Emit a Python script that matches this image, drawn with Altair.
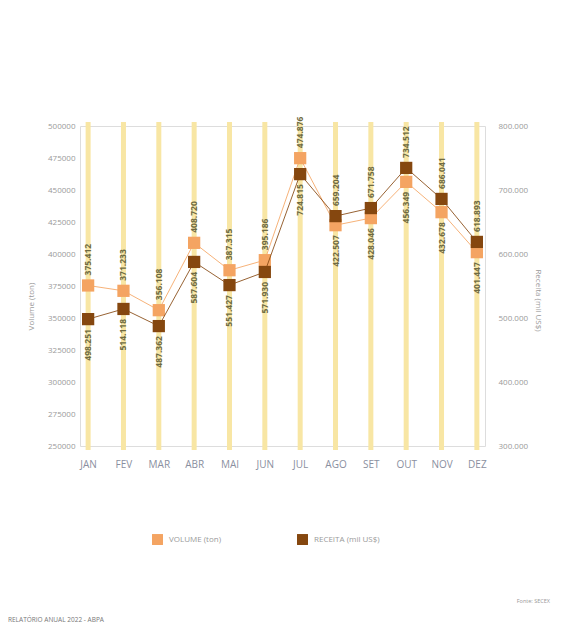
import altair as alt
import pandas as pd

# ---- data ----
meses = ["JAN", "FEV", "MAR", "ABR", "MAI", "JUN", "JUL", "AGO", "SET", "OUT", "NOV", "DEZ"]
volume = [375412, 371233, 356108, 408720, 387315, 395186, 474876, 422507, 428046, 456349, 432678, 401447]
receita = [498251, 514118, 487362, 587604, 551427, 571930, 724815, 659204, 671758, 734512, 686041, 618893]

VOL_DOMAIN = [250000, 500000]
REC_DOMAIN = [300000, 800000]
vol_ticks = list(range(250000, 500001, 25000))
rec_ticks = list(range(300000, 800001, 100000))

VOL_NAME = "VOLUME (ton)"
REC_NAME = "RECEITA (mil US$)"
LIGHT = "#f4a462"
DARK = "#85470f"
BAR = "#f8e6a4"
LABEL = "#6e6a42"
GRAY = "#9a9a9a"
FONT = "Open Sans"


def fmt(v):
    return f"{v:,}".replace(",", ".")


def rel(v, d):
    return (v - d[0]) / (d[1] - d[0])


df = pd.DataFrame({
    "mes": meses,
    "volume": volume,
    "receita": receita,
})
df["vol_label"] = [fmt(v) for v in volume]
df["rec_label"] = [fmt(v) for v in receita]
df["vol_up"] = [rel(v, VOL_DOMAIN) >= rel(r, REC_DOMAIN) for v, r in zip(volume, receita)]
df["s_vol"] = VOL_NAME
df["s_rec"] = REC_NAME

X = alt.X(
    "mes:N", sort=meses,
    scale=alt.Scale(type="point", padding=0.23),
    axis=alt.Axis(title=None, labelAngle=0, domain=False, ticks=False, grid=False,
                  labelPadding=13, labelFontSize=10, labelColor="#8a8fa0", labelFont=FONT),
)

color_scale = alt.Scale(domain=[VOL_NAME, REC_NAME], range=[LIGHT, DARK])
legend = alt.Legend(
    orient="none", legendX=72, legendY=408, direction="horizontal", title=None,
    symbolType="square", symbolSize=120, symbolStrokeWidth=0, symbolOpacity=1,
    labelFontSize=8, labelColor=GRAY, labelFont=FONT, labelOffset=6,
    columnPadding=75, padding=0,
)

Yvol = alt.Y(
    "volume:Q",
    scale=alt.Scale(domain=VOL_DOMAIN, nice=False, zero=False),
    axis=alt.Axis(title="Volume (ton)", orient="left", values=vol_ticks, format="d",
                  grid=False, domain=False, ticks=False, labelPadding=5,
                  labelFontSize=8, labelColor=GRAY, labelFont=FONT,
                  titleFontSize=8, titleColor=GRAY, titleFont=FONT,
                  titleFontWeight="normal", titlePadding=12, titleY=180),
)
Yrec = alt.Y(
    "receita:Q",
    scale=alt.Scale(domain=REC_DOMAIN, nice=False, zero=False),
    axis=alt.Axis(title="Receita (mil US$)", orient="right", values=rec_ticks,
                  labelExpr="replace(format(datum.value, ','), regexp(',', 'g'), '.')",
                  grid=False, domain=False, ticks=False, labelPadding=13,
                  labelFontSize=8, labelColor=GRAY, labelFont=FONT,
                  titleFontSize=8, titleColor=GRAY, titleFont=FONT,
                  titleFontWeight="normal", titlePadding=6, titleY=174),
)

base = alt.Chart(df)

rules = base.mark_rule(color=BAR, strokeWidth=5).encode(
    x=X, y=alt.value(-4), y2=alt.value(324)
)

vol_color = alt.Color("s_vol:N", scale=color_scale, legend=legend)
rec_color = alt.Color("s_rec:N", scale=color_scale, legend=legend)

vol_line = base.mark_line(strokeWidth=1, opacity=0.85).encode(x=X, y=Yvol, color=vol_color)
vol_pts = base.mark_square(size=150, opacity=1).encode(x=X, y=Yvol, color=vol_color)
vol_up = base.transform_filter("datum.vol_up").mark_text(
    angle=270, align="left", baseline="middle", dx=10, fontSize=8.5, fontWeight="bold",
    color=LABEL, font=FONT).encode(x=X, y=Yvol, text="vol_label:N")
vol_dn = base.transform_filter("!datum.vol_up").mark_text(
    angle=270, align="right", baseline="middle", dx=-10, fontSize=8.5, fontWeight="bold",
    color=LABEL, font=FONT).encode(x=X, y=Yvol, text="vol_label:N")

rec_line = base.mark_line(strokeWidth=1, opacity=0.85).encode(x=X, y=Yrec, color=rec_color)
rec_pts = base.mark_square(size=150, opacity=1).encode(x=X, y=Yrec, color=rec_color)
rec_up = base.transform_filter("!datum.vol_up").mark_text(
    angle=270, align="left", baseline="middle", dx=10, fontSize=8.5, fontWeight="bold",
    color=LABEL, font=FONT).encode(x=X, y=Yrec, text="rec_label:N")
rec_dn = base.transform_filter("datum.vol_up").mark_text(
    angle=270, align="right", baseline="middle", dx=-10, fontSize=8.5, fontWeight="bold",
    color=LABEL, font=FONT).encode(x=X, y=Yrec, text="rec_label:N")

vol_layer = alt.layer(vol_line, vol_pts, vol_up, vol_dn)
rec_layer = alt.layer(rec_line, rec_pts, rec_up, rec_dn)

footer_l = alt.Chart(pd.DataFrame({"t": ["RELATÓRIO ANUAL 2022 - ABPA"]})).mark_text(
    align="left", baseline="middle", fontSize=6.5, color="#777", font=FONT
).encode(x=alt.value(-72), y=alt.value(494), text="t:N")
footer_r = alt.Chart(pd.DataFrame({"t": ["Fonte: SECEX"]})).mark_text(
    align="right", baseline="middle", fontSize=5.5, color="#999", font=FONT
).encode(x=alt.value(470), y=alt.value(475), text="t:N")

chart = alt.layer(rules, vol_layer, rec_layer, footer_l, footer_r).resolve_scale(
    y="independent"
).properties(
    width=405, height=320, autosize="none",
    padding={"left": 72, "top": 118, "right": 72, "bottom": 177},
).configure_view(stroke=None).configure(background="white")

chart.save("out.html", embed_options={"renderer": "svg", "actions": False})
